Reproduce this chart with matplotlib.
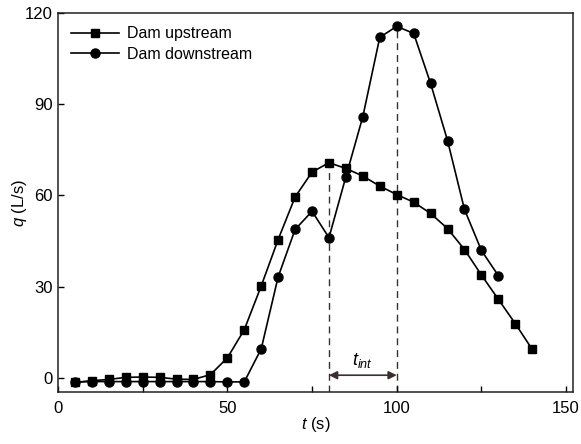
import matplotlib
matplotlib.use("Agg")
import matplotlib.pyplot as plt
from matplotlib.ticker import MultipleLocator

plt.rcParams['font.family'] = ['Liberation Sans', 'DejaVu Sans']
plt.rcParams['mathtext.fontset'] = 'custom'
plt.rcParams['mathtext.it'] = 'Liberation Sans:italic'
plt.rcParams['mathtext.rm'] = 'Liberation Sans'

t_up = [5, 10, 15, 20, 25, 30, 35, 40, 45, 50, 55, 60, 65, 70, 75, 80, 85, 90,
        95, 100, 105, 110, 115, 120, 125, 130, 135, 140]
q_up = [-1.6, -1.0, -0.6, 0.1, 0.2, 0.1, -0.5, -0.6, 1.0, 6.5, 15.8, 30.2, 45.5,
        59.5, 67.7, 70.8, 68.9, 66.4, 63.1, 60.3, 57.8, 54.1, 49.1, 42.2, 33.8,
        25.8, 17.8, 9.3]

t_down = [5, 10, 15, 20, 25, 30, 35, 40, 45, 50, 55, 60, 65, 70, 75, 80, 85, 90,
          95, 100, 105, 110, 115, 120, 125, 130]
q_down = [-1.4, -1.3, -1.3, -1.3, -1.3, -1.3, -1.3, -1.3, -1.3, -1.4, -1.4, 9.5,
          33.2, 48.8, 54.8, 46.1, 66.2, 86.0, 112.1, 115.7, 113.4, 96.9, 78.1,
          55.4, 41.9, 33.6]

t_start, t_end = 80, 100
q_start_top, q_end_top = 70.8, 115.7

fig = plt.figure(figsize=(5.81, 4.44), dpi=100)
ax = fig.add_axes([0.0998, 0.118, 0.8862, 0.852])

ax.plot(t_up, q_up, '-s', color='black', lw=1.2, ms=5.5, label='Dam upstream')
ax.plot(t_down, q_down, '-o', color='black', lw=1.2, ms=6.5, label='Dam downstream')

dcol = '#3a2f2f'
ax.plot([t_start, t_start], [-4.6, q_start_top], ls=(0, (5, 3.5)), color=dcol, lw=1.0, zorder=1)
ax.plot([t_end, t_end], [-4.6, q_end_top], ls=(0, (5, 3.5)), color=dcol, lw=1.0, zorder=1)
ax.annotate('', xy=(t_start, 0.8), xytext=(t_end, 0.8),
            arrowprops=dict(arrowstyle='<|-|>', color=dcol, lw=1.2,
                            mutation_scale=12, shrinkA=0, shrinkB=0))
ax.text((t_start + t_end) / 2, 5.5, r'$t_{int}$', ha='center', va='center', fontsize=13)

ax.set_xlim(0, 152)
ax.set_ylim(-4.6, 120)
ax.xaxis.set_major_locator(MultipleLocator(50))
ax.xaxis.set_minor_locator(MultipleLocator(25))
ax.yaxis.set_major_locator(MultipleLocator(30))
ax.tick_params(which='both', direction='in', top=False, right=False, labelsize=12,
               length=4, width=1)
ax.tick_params(axis='x', pad=7)
for s in ax.spines.values():
    s.set_linewidth(1.1)
    s.set_color('#222222')

ax.set_xlabel(r'$t$ (s)', fontsize=12, labelpad=-1)
ax.set_ylabel(r'$q$ (L/s)', fontsize=12, labelpad=-3)

leg = ax.legend(loc='upper left', frameon=False, fontsize=11.5, handlelength=3.0,
                handletextpad=0.5, borderaxespad=0.4, labelspacing=0.35)

fig.savefig('out.png', dpi=100)
